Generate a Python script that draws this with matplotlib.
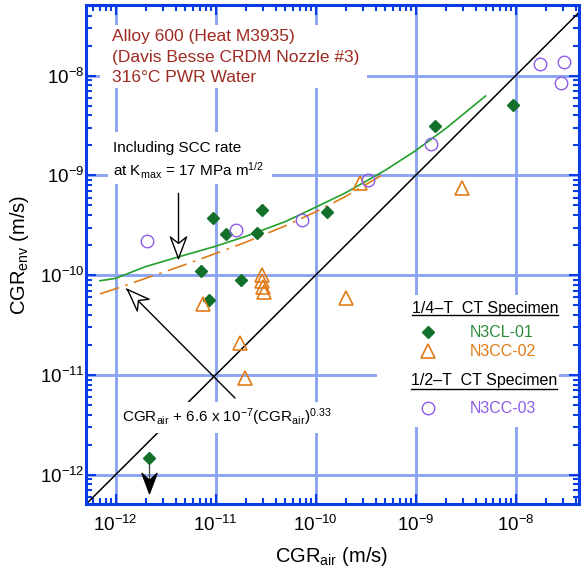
import numpy as np
import matplotlib
matplotlib.use('Agg')
import matplotlib.pyplot as plt
from matplotlib.path import Path
from matplotlib.patches import Rectangle
from matplotlib.ticker import FixedLocator, NullFormatter

plt.rcParams['font.family'] = ['Liberation Sans', 'DejaVu Sans']
plt.rcParams['mathtext.fontset'] = 'custom'
plt.rcParams['mathtext.rm'] = 'Liberation Sans'
plt.rcParams['mathtext.it'] = 'Liberation Sans:italic'
plt.rcParams['mathtext.bf'] = 'Liberation Sans:bold'

# valores (m/s)
cl01_air = [2.16e-12, 7.2e-12, 8.6e-12, 9.4e-12, 1.27e-11, 1.81e-11, 2.61e-11, 2.89e-11, 1.29e-10, 1.56e-9, 9.5e-9]
cl01_env = [1.47e-12, 1.1e-10, 5.6e-11, 3.77e-10, 2.56e-10, 9.0e-11, 2.66e-10, 4.5e-10, 4.32e-10, 3.15e-9, 5.1e-9]

cc02_air = [7.5e-12, 1.75e-11, 1.95e-11, 2.89e-11, 2.89e-11, 3.0e-11, 3.07e-11, 2.0e-10, 2.78e-10, 2.88e-9]
cc02_env = [5.2e-11, 2.08e-11, 9.3e-12, 1.01e-10, 8.8e-11, 7.6e-11, 6.8e-11, 5.9e-11, 8.4e-10, 7.5e-10]

cc03_air = [2.05e-12, 1.59e-11, 7.26e-11, 3.37e-10, 1.42e-9, 1.75e-8, 3.04e-8, 2.82e-8]
cc03_env = [2.21e-10, 2.85e-10, 3.6e-10, 9.06e-10, 2.07e-9, 1.32e-8, 1.37e-8, 8.5e-9]

# curva verde (N3CL-01) e curva laranja (CGRair + 6.6e-7 CGRair^0.33)
green_air = [7e-13, 1e-12, 2e-12, 4.2e-12, 1e-11, 2e-11, 5e-11, 1e-10, 2e-10, 5e-10, 1e-9, 2e-9, 5e-9]
green_env = [8.8e-11, 9.3e-11, 1.22e-10, 1.52e-10, 1.95e-10, 2.45e-10, 3.45e-10, 4.8e-10, 6.7e-10, 1.13e-9, 1.77e-9, 2.95e-9, 6.25e-9]
orange_air = [7e-13, 1e-12, 2e-12, 5e-12, 1e-11, 2e-11, 5e-11, 1e-10, 2e-10, 4.5e-10]
orange_env = [6.5e-11, 7.3e-11, 9.3e-11, 1.28e-10, 1.65e-10, 2.14e-10, 3.13e-10, 4.31e-10, 6.16e-10, 9.93e-10]

decades = [1e-12, 1e-11, 1e-10, 1e-9, 1e-8]
xlim = (5.07e-13, 4.3e-8)
ylim = (5.1e-13, 5.1e-8)

blue = '#0a3ce6'
gridblue = '#8ca5f2'
dkgreen = '#13702a'
green = '#22a02a'
orange = '#e07b16'
purple = '#8a5ce8'
red = '#9e2a20'


def ponta(angulo, notch=0.7):
    # ponta de seta tipo "stealth": ponta na origem, apontando para baixo quando angulo = 0
    v = np.array([[0, 0], [0.375, 1.0], [0, notch], [-0.375, 1.0], [0, 0]])
    a = np.deg2rad(angulo)
    r = np.array([[np.cos(a), -np.sin(a)], [np.sin(a), np.cos(a)]])
    v = v @ r.T
    return Path(v, [Path.MOVETO, Path.LINETO, Path.LINETO, Path.LINETO, Path.CLOSEPOLY])


def menores(lo, hi):
    out = []
    for e in range(-14, -6):
        for m in range(2, 10):
            v = m * 10.0**e
            if lo <= v <= hi:
                out.append(v)
    return out


fig = plt.figure(figsize=(5.82, 5.79), dpi=100)
ax = fig.add_axes([86/582, 75/579, 493/582, 499/579])
ax.set_xscale('log')
ax.set_yscale('log')
ax.set_xlim(xlim)
ax.set_ylim(ylim)
ax.set_axisbelow(True)

ax.set_xticks(decades)
ax.set_yticks(decades)
ax.xaxis.set_minor_locator(FixedLocator(menores(*xlim)))
ax.yaxis.set_minor_locator(FixedLocator(menores(*ylim)))
ax.xaxis.set_minor_formatter(NullFormatter())
ax.yaxis.set_minor_formatter(NullFormatter())

ax.grid(True, which='major', color=gridblue, lw=2.1)
for s in ax.spines.values():
    s.set_color(blue)
    s.set_linewidth(2.2)
ax.tick_params(which='both', direction='in', top=True, right=True, color=blue, width=1.5, labelsize=13.5)
ax.tick_params(which='major', length=7.5)
ax.tick_params(which='minor', length=4.5)
ax.tick_params(axis='x', pad=8)
ax.tick_params(axis='y', pad=1)

# linha 1:1
ax.axline((1e-12, 1e-12), (1e-8, 1e-8), color='k', lw=1.1, zorder=2)
ax.plot(green_air, green_env, color=green, lw=1.2, zorder=2)
ax.plot(orange_air, orange_env, color=orange, lw=1.2, dashes=(12, 4, 1.5, 4), zorder=2)

# caixas brancas por tras dos textos
for x0, y0, w, h in [(0.0285, 0.834, 0.541, 0.126), (0.0447, 0.641, 0.333, 0.104),
                     (0.069, 0.142, 0.457, 0.062), (0.591, 0.154, 0.368, 0.265)]:
    ax.add_patch(Rectangle((x0, y0), w, h, transform=ax.transAxes, facecolor='white',
                           edgecolor='none', zorder=3))

# setas
scc_x, scc_top, scc_tip = 4.19e-12, 6.7e-10, 1.494e-10
ax.plot([scc_x, scc_x], [scc_top, scc_tip], color='k', lw=1.0, zorder=4)
ax.plot([scc_x], [scc_tip], marker=ponta(0), ms=31, mfc='white', mec='k', mew=1.0, zorder=5)

diag_start, diag_tip = (1.56e-11, 5.9e-12), (1.29e-12, 7.26e-11)
ax.plot([diag_start[0], diag_tip[0]], [diag_start[1], diag_tip[1]], color='k', lw=1.0, zorder=4)
ax.plot([diag_tip[0]], [diag_tip[1]], marker=ponta(-135), ms=31, mfc='white', mec='k', mew=1.0, zorder=5)

low_x, low_tip = cl01_air[0], 6.56e-13
ax.plot([low_x, low_x], [cl01_env[0], low_tip], color='#444444', lw=0.9, zorder=4)
ax.plot([low_x], [low_tip], marker=ponta(0, 0.65), ms=29, color='k', zorder=5)

ax.plot(cl01_air, cl01_env, 'D', ms=6.5, color=dkgreen, zorder=6)
ax.plot(cc02_air, cc02_env, '^', ms=9.5, mfc='none', mec=orange, mew=1.2, zorder=6)
ax.plot(cc03_air, cc03_env, 'o', ms=9, mfc='none', mec=purple, mew=1.0, zorder=6)

# textos
tr = ax.transAxes
for y, s in [(0.9279, 'Alloy 600 (Heat M3935)'), (0.8858, '(Davis Besse CRDM Nozzle #3)'),
             (0.8457, '316°C PWR Water')]:
    ax.text(0.0528, y, s, transform=tr, color=red, fontsize=12.5, va='baseline', zorder=7)
ax.text(0.0543, 0.7054, 'Including SCC rate', transform=tr, fontsize=11, va='baseline', zorder=7)
ax.text(0.0543, 0.6573, r'at K$_\mathrm{max}$ = 17 MPa m$^\mathrm{1/2}$', transform=tr,
        fontsize=11, va='baseline', zorder=7)
ax.text(0.0732, 0.1643, r'CGR$_\mathrm{air}$ + 6.6 x 10$^{-7}$(CGR$_\mathrm{air}$)$^\mathrm{0.33}$',
        transform=tr, fontsize=11, va='baseline', zorder=7)

# legenda
ax.text(0.662, 0.3834, '1/4–T  CT Specimen', transform=tr, fontsize=11.5, va='baseline', zorder=7)
ax.plot([0.662, 0.957], [0.379, 0.379], transform=tr, color='k', lw=1.0, zorder=7)
ax.plot([0.6937], [0.3453], 'D', ms=6.5, color=dkgreen, transform=tr, zorder=7)
ax.text(0.7785, 0.3353, 'N3CL-01', transform=tr, color='#2e8b3a', fontsize=11.5, va='baseline', zorder=7)
ax.plot([0.6937], [0.3066], '^', ms=9.5, mfc='none', mec=orange, mew=1.2, transform=tr, zorder=7)
ax.text(0.7785, 0.2972, 'N3CC-02', transform=tr, color=orange, fontsize=11.5, va='baseline', zorder=7)
ax.text(0.6585, 0.2385, '1/2–T  CT Specimen', transform=tr, fontsize=11.5, va='baseline', zorder=7)
ax.plot([0.6585, 0.955], [0.2305, 0.2305], transform=tr, color='k', lw=1.0, zorder=7)
ax.plot([0.6937], [0.1918], 'o', ms=9, mfc='none', mec=purple, mew=1.0, transform=tr, zorder=7)
ax.text(0.7785, 0.1824, 'N3CC-03', transform=tr, color=purple, fontsize=11.5, va='baseline', zorder=7)

fig.text(20/582, (579-255)/579, r'CGR$_\mathrm{env}$ (m/s)', rotation=90, ha='center', va='center', fontsize=14.5)
fig.text(332/582, (579-562)/579, r'CGR$_\mathrm{air}$ (m/s)', ha='center', va='baseline', fontsize=14.5)

fig.savefig('out.png', dpi=100)
